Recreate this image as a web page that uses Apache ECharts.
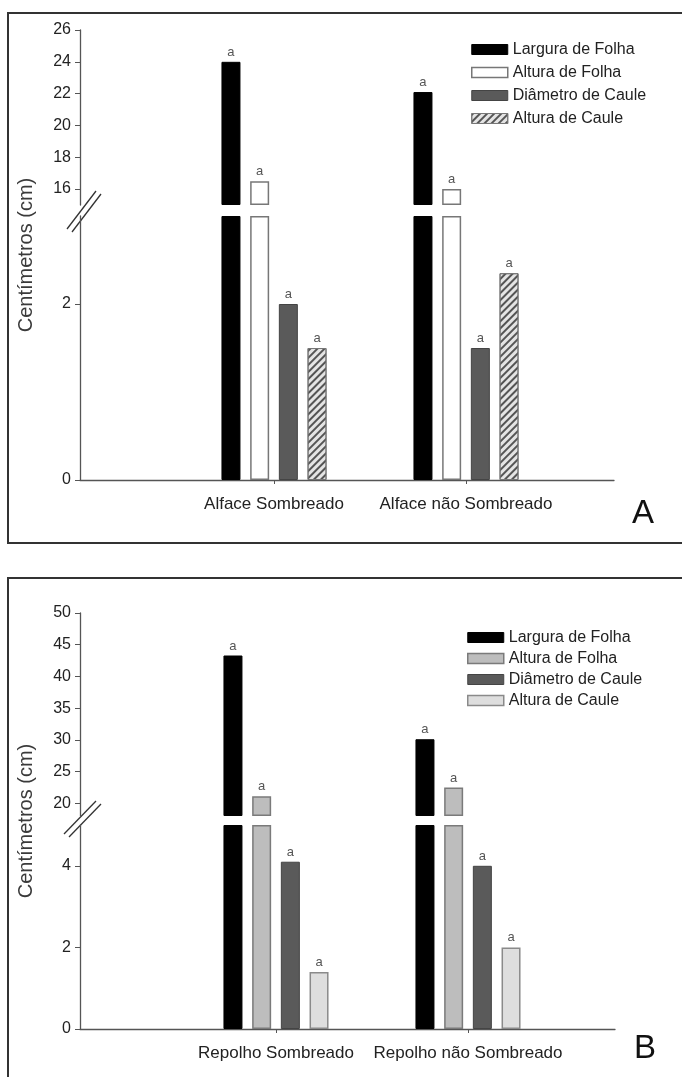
<!DOCTYPE html>
<html><head><meta charset="utf-8">
<script src="https://cdn.jsdelivr.net/npm/echarts@6/dist/echarts.min.js"></script>
<style>html,body{margin:0;padding:0;background:#fff}#c{width:682px;height:1077px}</style>
</head><body><div id="c"></div>
<script>
// ---------- data ----------
const seriesNames = ['Largura de Folha', 'Altura de Folha', 'Diâmetro de Caule', 'Altura de Caule'];
const categoriesA = ['Alface Sombreado', 'Alface não Sombreado'];
const categoriesB = ['Repolho Sombreado', 'Repolho não Sombreado'];
const larguraFolhaA = [24.0, 22.1];
const alturaFolhaA = [16.5, 16.0];
const diametroCauleA = [2.0, 1.5];
const alturaCauleA = [1.5, 2.35];
const larguraFolhaB = [43.3, 30.1];
const alturaFolhaB = [21.1, 22.5];
const diametroCauleB = [4.1, 4.0];
const alturaCauleB = [1.4, 2.0];
const lettersA = [['a', 'a'], ['a', 'a'], ['a', 'a'], ['a', 'a']];
const lettersB = [['a', 'a'], ['a', 'a'], ['a', 'a'], ['a', 'a']];
const ticksAUpper = [16, 18, 20, 22, 24, 26];
const ticksALower = [0, 2];
const ticksBUpper = [20, 25, 30, 35, 40, 45, 50];
const ticksBLower = [0, 2, 4];
const yAxisTitle = 'Centímetros (cm)';

// ---------- layout / styles ----------
const FONT = 'Liberation Sans, Arial, sans-serif';
const hatch = { symbol: 'rect', symbolSize: 1, dashArrayX: [1, 0], dashArrayY: [1.6, 2.6], rotation: -Math.PI / 4, color: '#555' };
const panels = [
  {
    key: 'A', cats: categoriesA,
    values: [larguraFolhaA, alturaFolhaA, diametroCauleA, alturaCauleA], letters: lettersA,
    upper: { min: 15, max: 26, ticks: ticksAUpper, top: 30, height: 175 },
    lower: { min: 0, max: 3, ticks: ticksALower, top: 216, height: 264 },
    frameLeft: 80, frameWidth: 534, barLeft: 178, barWidthGrid: 384,
    styles: [
      { color: '#000', borderColor: '#000', borderWidth: 1 },
      { color: '#fff', borderColor: '#777', borderWidth: 1.5 },
      { color: '#5a5a5a', borderColor: '#444', borderWidth: 1 },
      { color: '#e4e4e4', borderColor: '#777', borderWidth: 1, decal: hatch }
    ],
    legend: { left: 471, top: 41, gap: 6 },
    nameGap: 44
  },
  {
    key: 'B', cats: categoriesB,
    values: [larguraFolhaB, alturaFolhaB, diametroCauleB, alturaCauleB], letters: lettersB,
    upper: { min: 18, max: 50, ticks: ticksBUpper, top: 613, height: 203 },
    lower: { min: 0, max: 5, ticks: ticksBLower, top: 825, height: 204 },
    frameLeft: 80, frameWidth: 535, barLeft: 180, barWidthGrid: 384,
    styles: [
      { color: '#000', borderColor: '#000', borderWidth: 1 },
      { color: '#bdbdbd', borderColor: '#7a7a7a', borderWidth: 1.5 },
      { color: '#5a5a5a', borderColor: '#444', borderWidth: 1 },
      { color: '#dedede', borderColor: '#8a8a8a', borderWidth: 1.5 }
    ],
    legend: { left: 467, top: 629, gap: 4 },
    nameGap: 44
  }
];

const grid = [], xAxis = [], yAxis = [], series = [], legend = [];

function addGrid(g) { grid.push(g); return grid.length - 1; }

panels.forEach(p => {
  ['upper', 'lower'].forEach(sec => {
    const s = p[sec];
    // frame grid: y axis + (lower) x axis line
    const gf = addGrid({ left: p.frameLeft, top: s.top, width: p.frameWidth, height: s.height });
    xAxis.push({
      gridIndex: gf, type: 'value', min: 0, max: 1, show: sec === 'lower',
      axisLine: { show: true, onZero: false, lineStyle: { color: '#555', width: 1.3 } },
      axisTick: { show: false }, axisLabel: { show: false }, splitLine: { show: false }
    });
    yAxis.push({
      gridIndex: gf, type: 'value', min: s.min, max: s.max,
      axisLine: { show: true, lineStyle: { color: '#555', width: 1.3 } },
      axisTick: { show: true, length: 5, customValues: s.ticks, lineStyle: { color: '#555' } },
      axisLabel: { customValues: s.ticks, fontSize: 16, color: '#222', margin: 9, fontFamily: FONT },
      splitLine: { show: false }
    });
    // bar grid
    const gb = addGrid({ left: p.barLeft, top: s.top, width: p.barWidthGrid, height: s.height });
    const xi = xAxis.length;
    xAxis.push({
      gridIndex: gb, type: 'category', data: p.cats, boundaryGap: true, show: sec === 'lower',
      axisLine: { show: false },
      axisTick: { show: true, alignWithLabel: true, length: 4, lineStyle: { color: '#555' } },
      axisLabel: { interval: 0, fontSize: 17, color: '#222', margin: 16, fontFamily: FONT }
    });
    const yi = yAxis.length;
    yAxis.push({ gridIndex: gb, type: 'value', min: s.min, max: s.max, startValue: s.min, show: false, splitLine: { show: false } });
    seriesNames.forEach((n, i) => {
      const vals = p.values[i];
      series.push({
        type: 'bar', name: p.key + '|' + n, xAxisIndex: xi, yAxisIndex: yi,
        barWidth: 19, barGap: '51%', clip: true,
        itemStyle: p.styles[i],
        data: vals.map(v => sec === 'upper' ? (v > s.min ? v : '-') : Math.min(v, s.max)),
        label: {
          show: true, position: 'top', distance: 3, fontSize: 13, color: '#555', fontFamily: FONT,
          formatter: q => {
            const v = vals[q.dataIndex];
            const show = sec === 'upper' ? v > s.min : v <= s.max;
            return show ? p.letters[i][q.dataIndex] : '';
          }
        },
        emphasis: { disabled: true }, animation: false
      });
    });
  });
  // full-height grid for the y axis title
  const gFull = addGrid({ left: p.frameLeft, top: p.upper.top, width: p.frameWidth, height: p.lower.top + p.lower.height - p.upper.top });
  xAxis.push({ gridIndex: gFull, type: 'value', show: false });
  yAxis.push({
    gridIndex: gFull, type: 'value', show: true,
    axisLine: { show: false }, axisTick: { show: false }, axisLabel: { show: false }, splitLine: { show: false },
    name: yAxisTitle, nameLocation: 'middle', nameGap: p.nameGap, nameRotate: 90,
    nameTextStyle: { fontSize: 20, color: '#3a3a3a', fontFamily: FONT }
  });
  legend.push({
    data: seriesNames.map((n, i) => ({ name: p.key + '|' + n, itemStyle: p.styles[i] })),
    formatter: n => n.split('|')[1],
    orient: 'vertical', left: p.legend.left, top: p.legend.top, padding: 0,
    itemWidth: 36, itemHeight: 10, itemGap: p.legend.gap, icon: 'rect', selectedMode: false,
    textStyle: { fontSize: 16, lineHeight: 17, color: '#222', fontFamily: FONT }
  });
});

const option = {
  animation: false,
  backgroundColor: '#fff',
  title: [
    { text: 'A', left: 632, top: 497, padding: 0, textStyle: { fontSize: 33, fontWeight: 'normal', color: '#111', fontFamily: FONT } },
    { text: 'B', left: 634, top: 1032, padding: 0, textStyle: { fontSize: 33, fontWeight: 'normal', color: '#111', fontFamily: FONT } }
  ],
  grid, xAxis, yAxis, series, legend,
  graphic: [
    { type: 'rect', shape: { x: 8, y: 13, width: 690, height: 530 }, style: { fill: 'none', stroke: '#333', lineWidth: 2 }, silent: true },
    { type: 'rect', shape: { x: 8, y: 578, width: 690, height: 520 }, style: { fill: 'none', stroke: '#333', lineWidth: 2 }, silent: true },
    // axis break marks
    { type: 'line', shape: { x1: 67, y1: 229, x2: 96, y2: 191 }, style: { stroke: '#333', lineWidth: 1.3 }, silent: true },
    { type: 'line', shape: { x1: 72, y1: 232, x2: 101, y2: 194 }, style: { stroke: '#333', lineWidth: 1.3 }, silent: true },
    { type: 'line', shape: { x1: 64, y1: 834, x2: 96, y2: 801 }, style: { stroke: '#333', lineWidth: 1.3 }, silent: true },
    { type: 'line', shape: { x1: 69, y1: 837, x2: 101, y2: 804 }, style: { stroke: '#333', lineWidth: 1.3 }, silent: true }
  ]
};

const chart = echarts.init(document.getElementById('c'), null, { renderer: 'canvas' });
chart.setOption(option);
</script>
</body></html>
